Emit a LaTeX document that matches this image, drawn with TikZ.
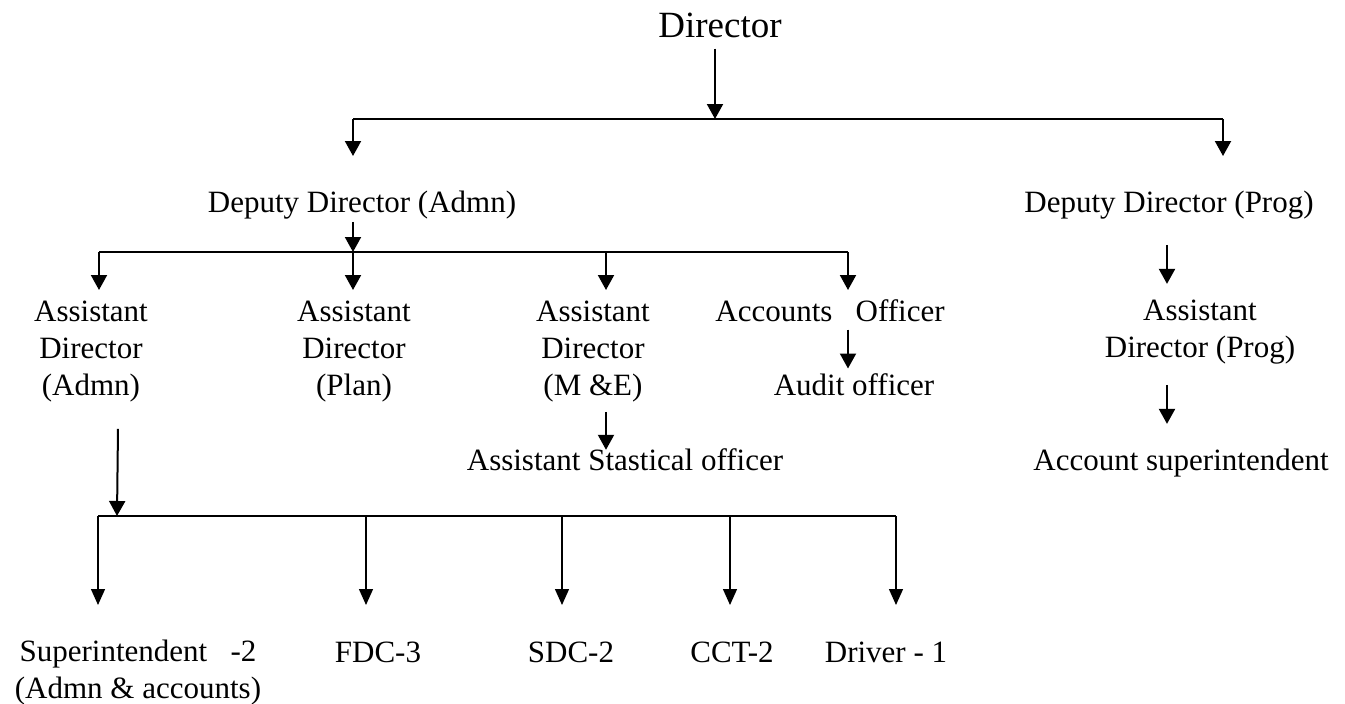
\documentclass[tikz,border=0pt]{standalone}
\usepackage{fontspec}
\setmainfont{Liberation Serif}
\usetikzlibrary{arrows.meta}
\begin{document}
\begin{tikzpicture}[x=1pt,y=-1pt,
  lbl/.style={inner sep=0pt,anchor=base,align=center,font=\fontsize{31}{37}\selectfont},
  big/.style={inner sep=0pt,anchor=base,font=\fontsize{37}{44}\selectfont},
  conn/.style={line width=2pt},
  arr/.style={line width=2pt,-{Triangle[width=16pt,length=15pt]}},
  thin/.style={line width=1.4pt,-{Triangle[width=14pt,length=16pt]}}]
\useasboundingbox (0,0) rectangle (1345,704);
% nodes (multi-line nodes: base = baseline of last line)
\node[big] (dir) at (720,37) {Director};
\node[lbl] (dda) at (362,212) {Deputy Director (Admn)};
\node[lbl] (ddp) at (1169,212) {Deputy Director (Prog)};
\node[lbl] (ada) at (91,395) {Assistant\\Director\\(Admn)};
\node[lbl] (adp) at (354,395) {Assistant\\Director\\(Plan)};
\node[lbl] (adm) at (593,395) {Assistant\\Director\\(M \&E)};
\node[lbl] (ao) at (830,321) {Accounts\hspace{0.5em} Officer};
\node[lbl] (audit) at (854,395) {Audit officer};
\node[lbl] (aso) at (625,470) {Assistant Stastical officer};
\node[lbl] (adg) at (1200,357) {Assistant\\Director (Prog)};
\node[lbl] (acs) at (1181,470) {Account superintendent};
\node[lbl] (sup) at (138,698) {Superintendent\hspace{0.5em} -2\\(Admn \& accounts)};
\node[lbl] (fdc) at (378,662) {FDC-3};
\node[lbl] (sdc) at (571,662) {SDC-2};
\node[lbl] (cct) at (732,662) {CCT-2};
\node[lbl] (drv) at (886,662) {Driver - 1};
% junctions
\coordinate (t1) at (715,119);
\coordinate (tL) at (353,119);
\coordinate (tR) at (1223,119);
\coordinate (m1) at (353,252);
\coordinate (mL) at (99,252);
\coordinate (mM) at (606,252);
\coordinate (mR) at (848,252);
\coordinate (b1) at (117,516);
\coordinate (bL) at (98,516);
\coordinate (bR) at (896,516);
% top level
\draw[arr] (dir.south -| t1) ++(0,11) -- (t1);
\draw[conn] (tL) -- (tR);
\draw[arr] (tL) -- ++(0,37);
\draw[arr] (tR) -- ++(0,37);
% admin branch
\draw[arr] (dda.south -| m1) ++(0,3) -- (m1);
\draw[conn] (mL) -- (mR);
\draw[arr] (mL) -- ++(0,38);
\draw[arr] (m1) -- ++(0,38);
\draw[arr] (mM) -- ++(0,38);
\draw[arr] (mR) -- ++(0,38);
\draw[arr] (ao.south -| mR) ++(0,8) -- ++(0,39);
\draw[arr] (adm.south -| mM) ++(0,10) -- ++(0,38);
% prog branch
\draw[arr] (ddp.south -| 1167,0) ++(0,26) -- ++(0,39);
\draw[arr] (adg.south -| 1167,0) ++(0,21) -- ++(0,39);
% bottom
\draw[arr] (ada.south -| 118,0) ++(0,27) -- (b1);
\draw[line width=2pt] (bL) -- (bR);
\draw[thin] (bL) -- ++(0,89);
\draw[thin] (366,516) -- ++(0,89);
\draw[thin] (562,516) -- ++(0,89);
\draw[thin] (730,516) -- ++(0,89);
\draw[thin] (bR) -- ++(0,89);
\end{tikzpicture}
\end{document}
